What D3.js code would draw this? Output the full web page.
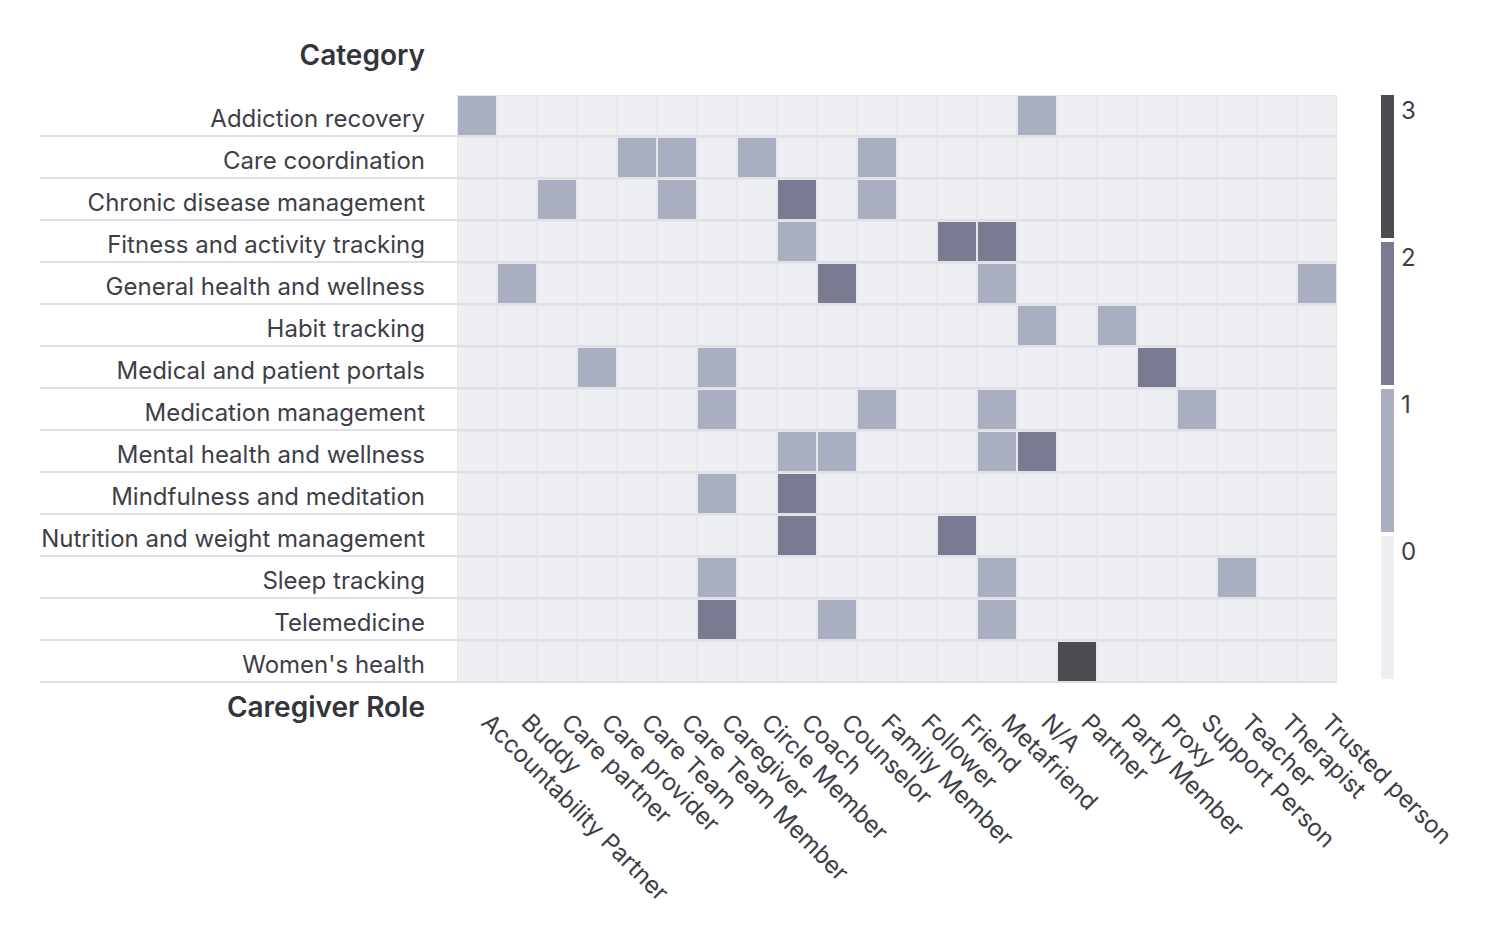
<!DOCTYPE html>
<html>
<head>
<meta charset="utf-8">
<script src="https://cdn.jsdelivr.net/npm/d3@7"></script>
<style>
  body { margin: 0; background: #fff; }
  svg { font-family: Inter, "Noto Sans", sans-serif; }
</style>
</head>
<body>
<div class="heatmap"></div>
<script>
// categories (rows) and caregiver roles (columns)
var categories = [
  "Addiction recovery", "Care coordination", "Chronic disease management",
  "Fitness and activity tracking", "General health and wellness", "Habit tracking",
  "Medical and patient portals", "Medication management", "Mental health and wellness",
  "Mindfulness and meditation", "Nutrition and weight management", "Sleep tracking",
  "Telemedicine", "Women's health"
];
var roles = [
  "Accountability Partner", "Buddy", "Care partner", "Care provider", "Care Team",
  "Care Team Member", "Caregiver", "Circle Member", "Coach", "Counselor",
  "Family Member", "Follower", "Friend", "Metafriend", "N/A", "Partner",
  "Party Member", "Proxy", "Support Person", "Teacher", "Therapist", "Trusted person"
];
// non-zero counts: [category, role, count]
var counts = [
  ["Addiction recovery", "Accountability Partner", 1],
  ["Addiction recovery", "N/A", 1],
  ["Care coordination", "Care Team", 1],
  ["Care coordination", "Care Team Member", 1],
  ["Care coordination", "Circle Member", 1],
  ["Care coordination", "Family Member", 1],
  ["Chronic disease management", "Care partner", 1],
  ["Chronic disease management", "Care Team Member", 1],
  ["Chronic disease management", "Coach", 2],
  ["Chronic disease management", "Family Member", 1],
  ["Fitness and activity tracking", "Coach", 1],
  ["Fitness and activity tracking", "Friend", 2],
  ["Fitness and activity tracking", "Metafriend", 2],
  ["General health and wellness", "Buddy", 1],
  ["General health and wellness", "Counselor", 2],
  ["General health and wellness", "Metafriend", 1],
  ["General health and wellness", "Trusted person", 1],
  ["Habit tracking", "N/A", 1],
  ["Habit tracking", "Party Member", 1],
  ["Medical and patient portals", "Care provider", 1],
  ["Medical and patient portals", "Caregiver", 1],
  ["Medical and patient portals", "Proxy", 2],
  ["Medication management", "Caregiver", 1],
  ["Medication management", "Family Member", 1],
  ["Medication management", "Metafriend", 1],
  ["Medication management", "Support Person", 1],
  ["Mental health and wellness", "Coach", 1],
  ["Mental health and wellness", "Counselor", 1],
  ["Mental health and wellness", "Metafriend", 1],
  ["Mental health and wellness", "N/A", 2],
  ["Mindfulness and meditation", "Caregiver", 1],
  ["Mindfulness and meditation", "Coach", 2],
  ["Nutrition and weight management", "Coach", 2],
  ["Nutrition and weight management", "Friend", 2],
  ["Sleep tracking", "Caregiver", 1],
  ["Sleep tracking", "Metafriend", 1],
  ["Sleep tracking", "Teacher", 1],
  ["Telemedicine", "Caregiver", 2],
  ["Telemedicine", "Counselor", 1],
  ["Telemedicine", "Metafriend", 1],
  ["Women's health", "Partner", 3]
];
var levels = [0, 1, 2, 3];
var levelColors = ["#eeeff3", "#a9aec1", "#7a7b91", "#4b4c52"];

var width = 1504, height = 935;
var textColor = "#3e3e48";

// full grid, zeros filled in
var lookup = {};
counts.forEach(function(d) { lookup[d[0] + "|" + d[1]] = d[2]; });
var cells = [];
categories.forEach(function(c) {
  roles.forEach(function(r) {
    cells.push({ category: c, role: r, value: lookup[c + "|" + r] || 0 });
  });
});

var svg = d3.select(".heatmap").append("svg")
    .attr("width", width)
    .attr("height", height);

var x = d3.scaleBand().domain(roles).range([457, 1337]);
var y = d3.scaleBand().domain(categories).range([95, 683]);
var color = d3.scaleOrdinal().domain(levels).range(levelColors);

// gap colour behind the cells
svg.append("rect")
    .attr("x", 457).attr("y", 95)
    .attr("width", 880).attr("height", 588)
    .attr("fill", "#e6e7eb");

svg.selectAll("rect.cell")
  .data(cells)
  .enter().append("rect")
    .attr("class", "cell")
    .attr("x", function(d) { return x(d.role) + 1; })
    .attr("y", function(d) { return y(d.category) + 1; })
    .attr("width", x.bandwidth() - 2)
    .attr("height", y.bandwidth() - 2)
    .attr("fill", function(d) { return color(d.value); });

// row separators running under the labels
svg.selectAll("line.sep")
  .data(categories)
  .enter().append("line")
    .attr("class", "sep")
    .attr("x1", 40).attr("x2", 1337)
    .attr("y1", function(d) { return y(d) + y.bandwidth() - 1; })
    .attr("y2", function(d) { return y(d) + y.bandwidth() - 1; })
    .attr("stroke", "#dfe0e5")
    .attr("stroke-width", 2);

// row labels
svg.selectAll("text.row")
  .data(categories)
  .enter().append("text")
    .attr("class", "row")
    .attr("x", 425)
    .attr("y", function(d) { return y(d) + y.bandwidth() / 2 + 11; })
    .attr("text-anchor", "end")
    .attr("font-size", 24)
    .attr("fill", textColor)
    .text(function(d) { return d; });

// column labels, rotated
svg.selectAll("text.col")
  .data(roles)
  .enter().append("text")
    .attr("class", "col")
    .attr("transform", function(d) {
      return "translate(" + (x(d) + x.bandwidth() / 2 + 3) + ",724) rotate(45)";
    })
    .attr("text-anchor", "start")
    .attr("font-size", 24)
    .attr("fill", textColor)
    .text(function(d) { return d; });

// axis titles
svg.append("text")
    .attr("x", 425).attr("y", 65)
    .attr("text-anchor", "end")
    .attr("font-size", 28)
    .attr("font-weight", 600)
    .attr("fill", "#34343c")
    .text("Category");

svg.append("text")
    .attr("x", 425).attr("y", 717)
    .attr("text-anchor", "end")
    .attr("font-size", 28)
    .attr("font-weight", 600)
    .attr("fill", "#34343c")
    .text("Caregiver Role");

// legend
var legendY = d3.scaleBand().domain(levels.slice().reverse()).range([95, 683]);
var legend = svg.append("g");
legend.selectAll("rect")
  .data(levels)
  .enter().append("rect")
    .attr("x", 1381)
    .attr("y", function(d) { return legendY(d); })
    .attr("width", 13)
    .attr("height", legendY.bandwidth() - 4)
    .attr("fill", function(d) { return color(d); });
legend.selectAll("text")
  .data(levels)
  .enter().append("text")
    .attr("x", 1401)
    .attr("y", function(d) { return legendY(d) + 24; })
    .attr("font-size", 24)
    .attr("fill", textColor)
    .text(function(d) { return d; });
</script>
</body>
</html>
